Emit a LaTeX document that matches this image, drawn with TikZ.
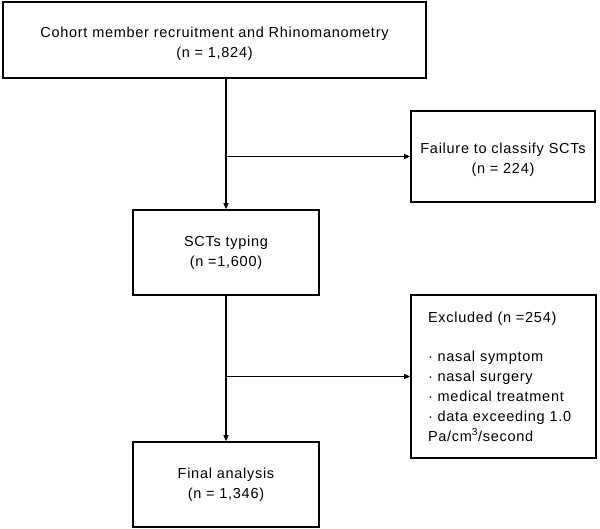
\documentclass[tikz,border=0pt]{standalone}
\usepackage{fontspec}
\setmainfont{Liberation Sans}[LetterSpace=5]
\usetikzlibrary{arrows.meta,positioning}
\newcommand{\lowstrut}{\rule{0pt}{18pt}}

\begin{document}
\begin{tikzpicture}[x=1pt, y=1pt,
    box/.style={draw, line width=1.6pt, align=center, font=\fontsize{14.5}{20}\selectfont},
    link/.style={line width=1.1pt},
    arrow/.style={link, -{Triangle[length=6pt, width=5pt]}}]
    \useasboundingbox (0,0) rectangle (600,-529);

    \node[box, minimum width=423, minimum height=76] (cohort) at (214.5,-40) {\lowstrut Cohort member recruitment and Rhinomanometry\\(n = 1,824)};
    \node[box, minimum width=184, minimum height=91] (failure) at (503,-156.5) {\lowstrut Failure to classify SCTs\\(n = 224)};
    \node[box, minimum width=186, minimum height=85] (scts) at (226,-252.5) {SCTs typing\\(n =1,600)};
    \node[box, minimum width=185, minimum height=163, align=left, text width=151, inner xsep=17] (excluded) at (503.5,-376.5) {Excluded (n =254)\\[19pt]
        · nasal symptom\\
        · nasal surgery\\
        · medical treatment\\
        · data exceeding 1.0\\
        Pa/cm\textsuperscript{3}/second};
    \node[box, minimum width=186, minimum height=85] (final) at (226,-484.5) {Final analysis\\(n = 1,346)};

    \coordinate (split1) at (scts.north |- failure.west);
    \coordinate (split2) at (scts.south |- excluded.west);

    \draw[arrow] (cohort.south -| scts.north) -- (scts.north);
    \draw[arrow] (split1) -- (failure.west);
    \draw[arrow] (scts.south) -- (final.north);
    \draw[arrow] (split2) -- (excluded.west);
\end{tikzpicture}
\end{document}
